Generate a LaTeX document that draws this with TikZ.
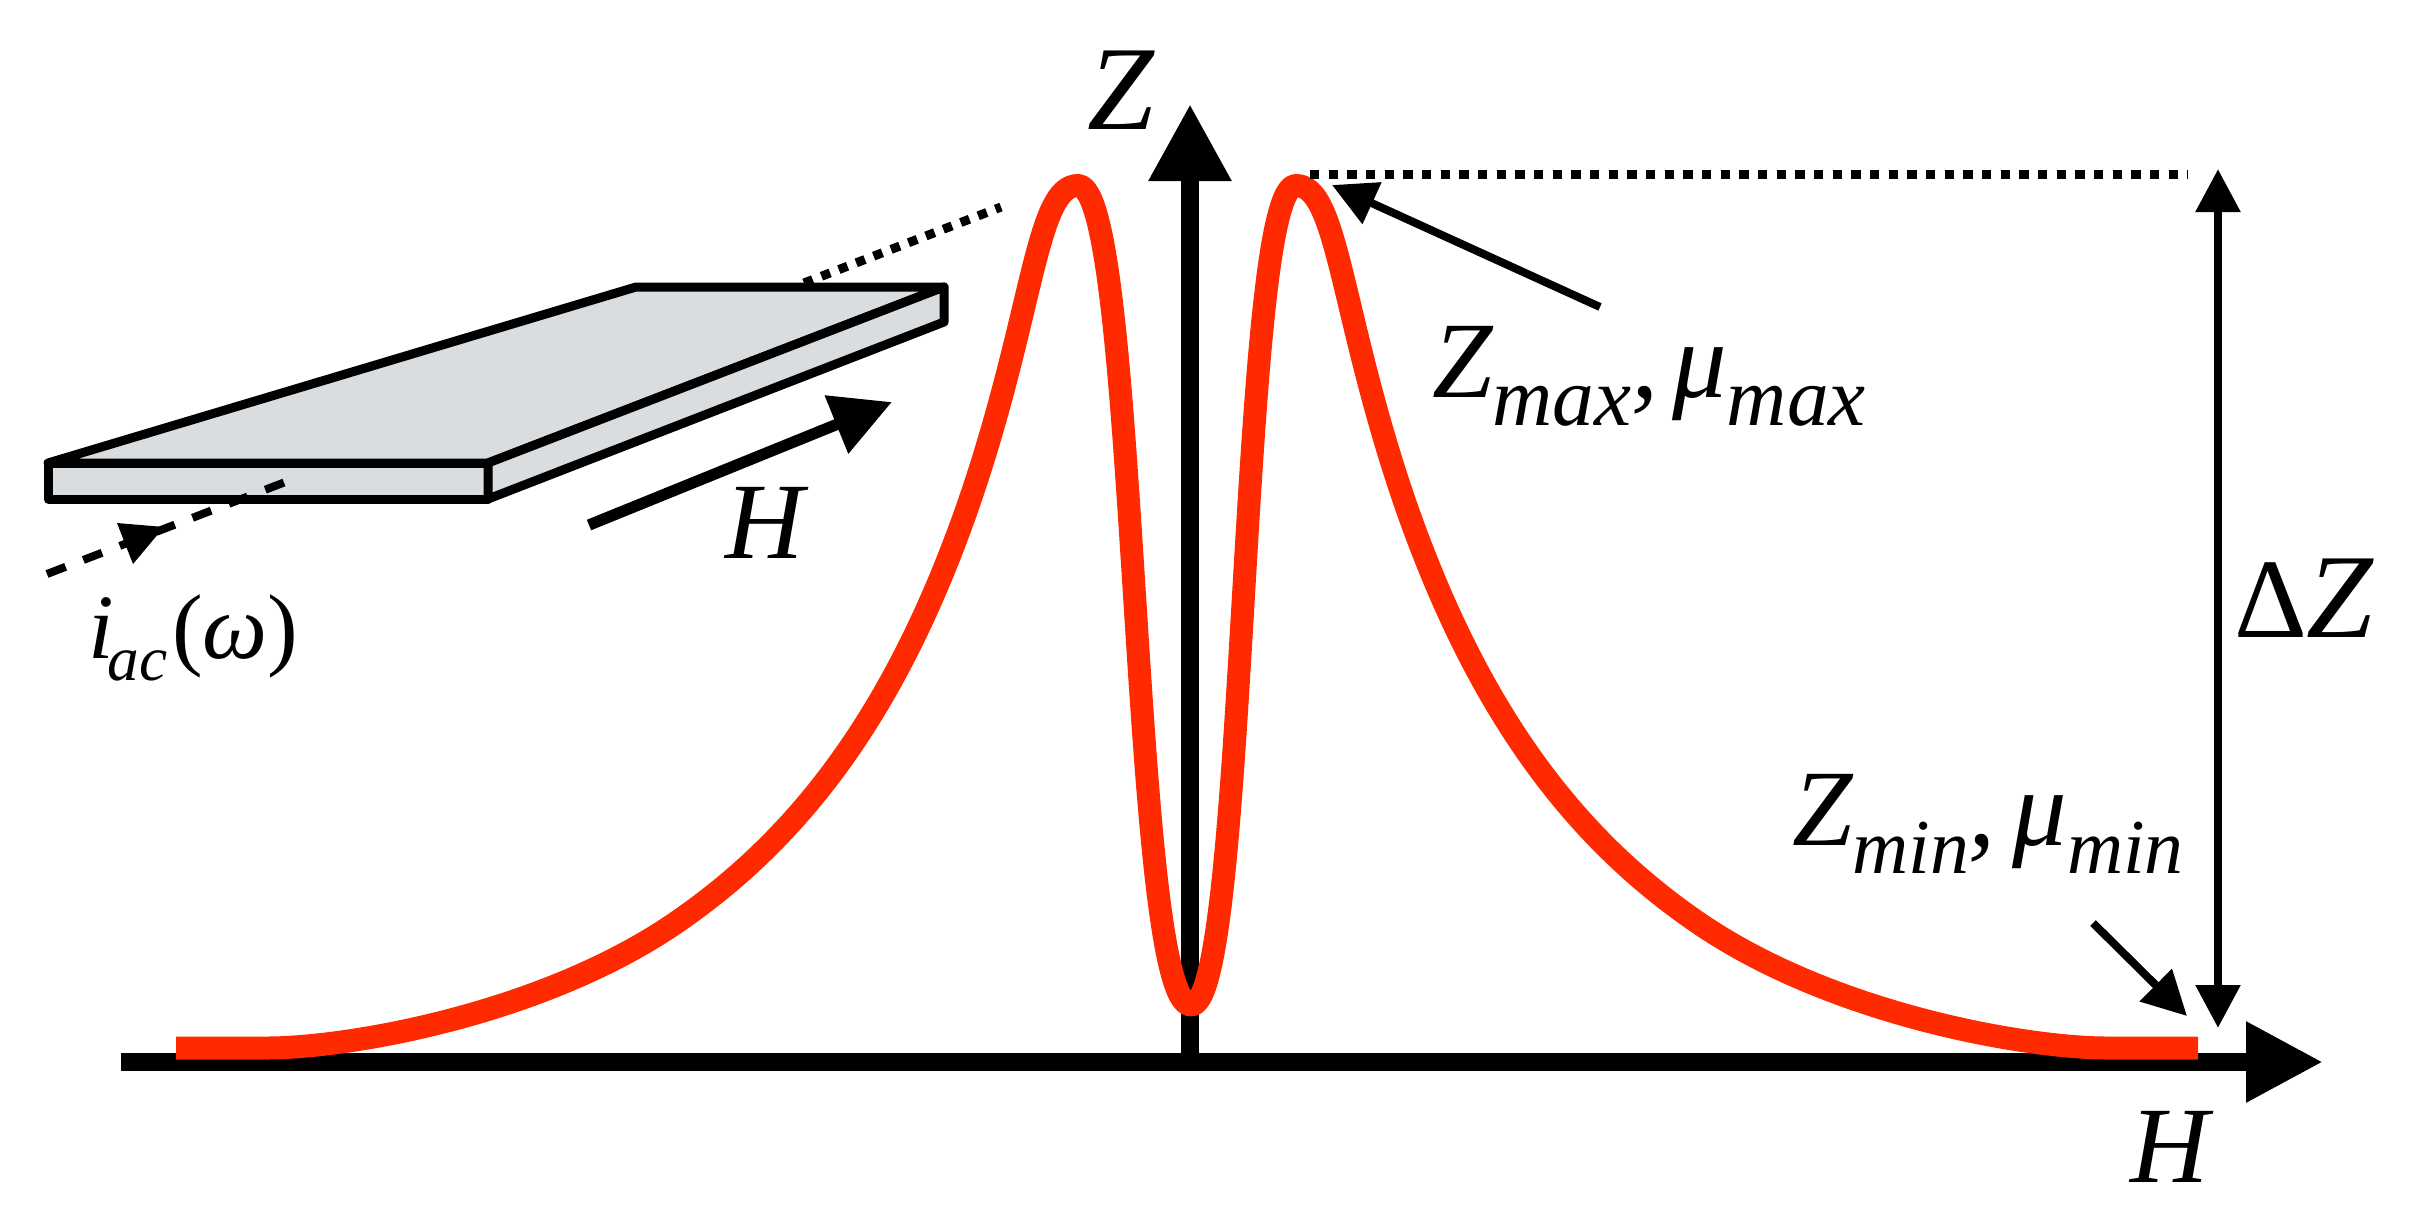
\documentclass[tikz,border=0pt]{standalone}
\usepackage{fontspec}
\setmainfont{Liberation Serif}
\usetikzlibrary{arrows.meta}
\definecolor{curvered}{HTML}{FF2A00}
\definecolor{plategray}{HTML}{DADDE0}
\newcommand{\bigf}{\fontsize{32.6}{34}\selectfont\itshape}
\newcommand{\subf}[2]{\raisebox{-8.4pt}{\fontsize{#1}{24}\selectfont\itshape #2}}
\tikzset{
  lbl/.style={inner sep=0pt,outer sep=0pt,anchor=base west,font=\bigf},
  platefill/.style={fill=plategray,draw=black,line width=2.7pt,line join=round},
  axisline/.style={black,line width=5.5pt},
  thinarrow/.style={black,line width=2.4pt},
  dottedline/.style={black,line width=2.7pt,dash pattern=on 2.8pt off 2.8pt},
  curve/.style={curvered,line width=6.9pt,line join=round,line cap=butt}
}
\begin{document}
\begin{tikzpicture}[x=0.3pt,y=-0.3pt]
\useasboundingbox (0,0) rectangle (2411,1228);
% axes
\coordinate (xs) at (121,1062); \coordinate (xe) at (2323,1062);
\coordinate (ys) at (1190,1062); \coordinate (ye) at (1190,104);
\draw[axisline,-{Triangle[length=23.1pt,width=22.8pt]}] (xs) -- (xe);
\draw[axisline,-{Triangle[length=23.1pt,width=23.4pt]}] (ys) -- (ye);
% dotted line behind the plate
\coordinate (da) at (804,283); \coordinate (db) at (1001,207);
\draw[dottedline] (da) -- (db);
% plate
\coordinate (p1) at (48,463); \coordinate (p2) at (488,463); \coordinate (p3) at (944,287);
\coordinate (p4) at (636,287); \coordinate (p5) at (48,499); \coordinate (p6) at (488,499);
\coordinate (p7) at (944,322);
\draw[platefill] (p1) -- (p2) -- (p3) -- (p4) -- cycle;
\draw[platefill] (p1) -- (p2) -- (p6) -- (p5) -- cycle;
\draw[platefill] (p2) -- (p3) -- (p7) -- (p6) -- cycle;
% current
\coordinate (ia) at (47,574); \coordinate (ib) at (284,482.5);
\draw[black,line width=2.4pt,dash pattern=on 6pt off 5.7pt] (ia) -- (ib);
\fill[black] (117,523) -- (164,527) -- (133,564) -- cycle;
% field arrow
\coordinate (ha) at (589,525); \coordinate (hb) at (892,402);
\draw[black,line width=3.4pt,-{Triangle[length=18pt,width=18pt]}] (ha) -- (hb);
% curve
\draw[curve] (176,1048) -- (267,1048)
  .. controls (347,1048) and (540,1015) .. (674,924)
  .. controls (808,833) and (901,700) .. (970,500)
  .. controls (1034,312) and (1036,185.5) .. (1078,185.5)
  .. controls (1139,185.5) and (1130,1005) .. (1191,1005)
  .. controls (1248,1005) and (1239,185.5) .. (1296,185.5)
  .. controls (1338,185.5) and (1340,312) .. (1404,500)
  .. controls (1473,700) and (1566,833) .. (1700,924)
  .. controls (1834,1015) and (2027,1048) .. (2107,1048)
  -- (2198,1048);
% dotted level
\coordinate (lva) at (1310,174); \coordinate (lvb) at (2188,174);
\draw[dottedline] (lva) -- (lvb);
% delta Z
\coordinate (dza) at (2218,169); \coordinate (dzb) at (2218,1028);
\draw[black,line width=2.6pt,{Triangle[length=12.9pt,width=12.9pt]}-{Triangle[length=12.9pt,width=12.9pt]}] (dza) -- (dzb);
% label arrows
\coordinate (zma) at (1600,307); \coordinate (zmb) at (1332,185);
\draw[thinarrow,-{Triangle[length=13.2pt,width=13.2pt]}] (zma) -- (zmb);
\coordinate (zna) at (2093,923); \coordinate (znb) at (2187,1016);
\draw[thinarrow,-{Triangle[length=13.2pt,width=13.2pt]}] (zna) -- (znb);
% labels
\node[lbl,font=\fontsize{36}{38}\selectfont\itshape] (lz) at (1087,129) {Z};
\node[lbl] (lzmax) at (1432,397) {Z\subf{25}{max},\hspace{4.2pt}μ\subf{25}{max}};
\node[lbl] (lzmin) at (1792,845) {Z\subf{23.3}{min},\hspace{5pt}μ\subf{23.3}{min}};
\node[lbl] (lhp) at (725,558) {H};
\node[lbl] (lhx) at (2130,1182) {H};
\node[lbl,font=\fontsize{27.6}{29}\selectfont\itshape] (lac) at (88,658) {i\hspace{-1.8pt}\raisebox{-6.6pt}{\fontsize{19}{20}\selectfont\itshape ac}\hspace{1.5pt}{\upshape(}ω{\upshape)}};
\node[lbl,font=\fontsize{34}{36}\selectfont] (ldz) at (2234,637) {Δ{\fontsize{36}{36}\selectfont\itshape Z}};
\end{tikzpicture}
\end{document}
